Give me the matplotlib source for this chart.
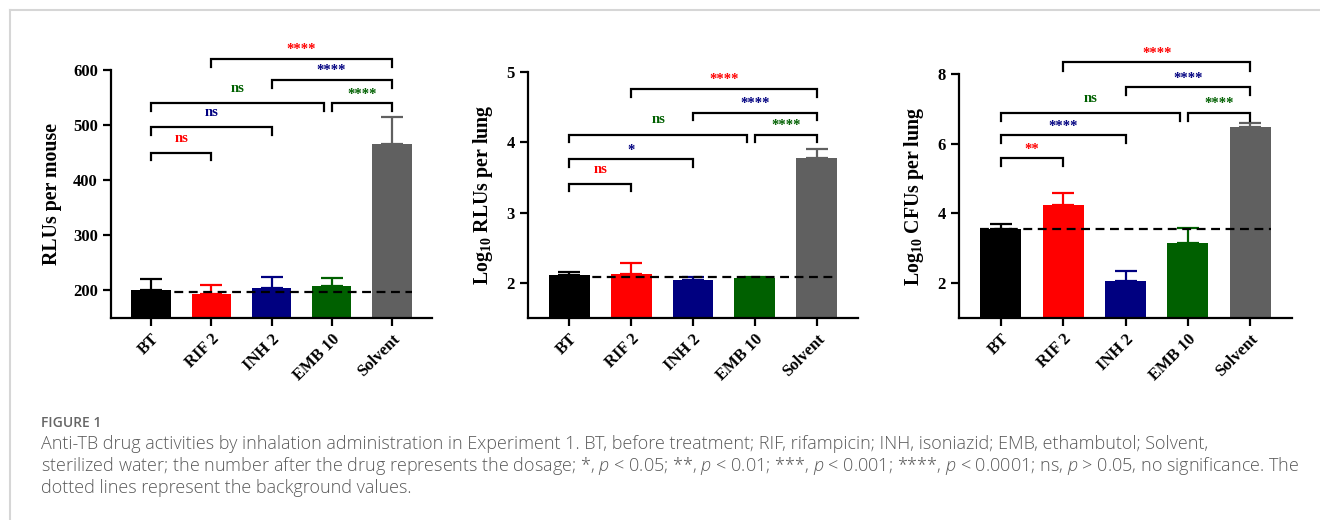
import numpy as np
import matplotlib
matplotlib.use("Agg")
import matplotlib.pyplot as plt
from matplotlib.lines import Line2D

plt.rcParams["font.family"] = "Liberation Serif"
plt.rcParams["font.weight"] = "bold"
plt.rcParams["mathtext.fontset"] = "custom"
plt.rcParams["mathtext.rm"] = "Open Sans:weight=light"
plt.rcParams["mathtext.it"] = "Open Sans:style=italic:weight=light"
plt.rcParams["mathtext.bf"] = "Liberation Serif:bold"

groups = ["BT", "RIF 2", "INH 2", "EMB 10", "Solvent"]
bar_colors = ["#000000", "#ff0000", "#000080", "#006000", "#606060"]

rlu_mouse = [200, 193, 205, 208, 465]
rlu_mouse_err = [20, 16, 20, 14, 50]
log_rlu = [2.11, 2.13, 2.04, 2.07, 3.77]
log_rlu_err = [0.04, 0.15, 0.05, 0.02, 0.13]
log_cfu = [3.55, 4.25, 2.07, 3.14, 6.48]
log_cfu_err = [0.15, 0.35, 0.29, 0.44, 0.11]
background = [198, 2.09, 3.55]

# comparisons drawn as brackets (same pairs in every panel)
pairs = [(0, 1), (0, 2), (0, 3), (3, 4), (2, 4), (1, 4)]
pair_colors = ["#ff0000", "#000080", "#006000", "#006000", "#000080", "#ff0000"]
labels_1 = ["ns", "ns", "ns", "****", "****", "****"]
labels_2 = ["ns", "*", "ns", "****", "****", "****"]
labels_3 = ["**", "****", "ns", "****", "****", "****"]
levels_1 = [450, 496, 540, 540, 582, 620]
levels_2 = [3.41, 3.76, 4.11, 4.11, 4.42, 4.76]
levels_3 = [5.58, 6.24, 6.89, 6.89, 7.62, 8.33]

panels = [
    dict(vals=rlu_mouse, err=rlu_mouse_err, ylab="RLUs per mouse", ylim=(150, 600),
         yticks=[200, 300, 400, 500, 600], labels=labels_1, levels=levels_1, h=14,
         rect=[111 / 1320, 1 - 318 / 520, 321 / 1320, 248 / 520]),
    dict(vals=log_rlu, err=log_rlu_err, ylab=r"Log$_{\mathbf{10}}$ RLUs per lung", ylim=(1.5, 5),
         yticks=[2, 3, 4, 5], labels=labels_2, levels=levels_2, h=0.11,
         rect=[528 / 1320, 1 - 318 / 520, 330 / 1320, 246 / 520]),
    dict(vals=log_cfu, err=log_cfu_err, ylab=r"Log$_{\mathbf{10}}$ CFUs per lung", ylim=(1, 8),
         yticks=[2, 4, 6, 8], labels=labels_3, levels=levels_3, h=0.23,
         rect=[959 / 1320, 1 - 318 / 520, 333 / 1320, 244 / 520]),
]

fig = plt.figure(figsize=(13.2, 5.2), dpi=100)
x = np.arange(len(groups))

for i, p in enumerate(panels):
    ax = fig.add_axes(p["rect"])
    ax.bar(x, p["vals"], width=0.66, color=bar_colors, zorder=2)
    for xi, v, e, c in zip(x, p["vals"], p["err"], bar_colors):
        ax.errorbar(xi, v, yerr=[[0], [e]], color=c, capsize=8, elinewidth=1.6,
                    capthick=1.6, zorder=1)
    ax.hlines(background[i], -0.33, 4.33, colors="black", linestyles=(0, (4, 2.5)),
              linewidth=1.6, zorder=3)

    for (a, b), lab, lev, col in zip(pairs, p["labels"], p["levels"], pair_colors):
        xa, xb = a, b
        if (a, b) == (0, 3):
            xb = b - 0.12
        ax.plot([xa, xa, xb, xb], [lev - p["h"], lev, lev, lev - p["h"]], color="black",
                lw=1.6, clip_on=False, solid_joinstyle="miter")
        off = 8 if lab == "ns" else 4
        ax.annotate(lab, ((xa + xb) / 2, lev), xytext=(0, off), textcoords="offset points",
                    ha="center", va="baseline", color=col, fontsize=10.5, fontweight="bold",
                    annotation_clip=False)

    ax.set_xlim(-0.67, 4.67)
    ax.set_ylim(*p["ylim"])
    ax.set_yticks(p["yticks"])
    ax.set_xticks(x)
    ax.set_xticklabels(groups, rotation=45, ha="right", rotation_mode="anchor")
    ax.set_ylabel(p["ylab"], fontsize=14.3, fontweight="bold", labelpad=8)
    for s in ["top", "right"]:
        ax.spines[s].set_visible(False)
    for s in ["left", "bottom"]:
        ax.spines[s].set_linewidth(1.6)
    ax.tick_params(width=1.6, length=6, labelsize=12)

# card frame
fig.add_artist(Line2D([10 / 1320, 1], [1 - 10 / 520, 1 - 10 / 520], color="#d6d6d6", lw=1.5))
fig.add_artist(Line2D([10 / 1320, 10 / 1320], [0, 1 - 10 / 520], color="#d6d6d6", lw=1.5))

cap_font = "Open Sans"
fig.text(41 / 1320, 1 - 423 / 520, "FIGURE 1", fontsize=10, family=cap_font,
         fontweight="semibold", color="#666666", va="center")
caption = [
    "Anti-TB drug activities by inhalation administration in Experiment 1. BT, before treatment; "
    "RIF, rifampicin; INH, isoniazid; EMB, ethambutol; Solvent,",
    "sterilized water; the number after the drug represents the dosage; *, $p$ < 0.05; **, $p$ < 0.01; "
    "***, $p$ < 0.001; ****, $p$ < 0.0001; ns, $p$ > 0.05, no significance. The",
    "dotted lines represent the background values.",
]
for k, line in enumerate(caption):
    fig.text(41 / 1320, 1 - (444 + 22 * k) / 520, line, fontsize=13, family=cap_font,
             fontweight="light", color="#5a5a5a", va="center")

fig.savefig("out.png", dpi=100)
